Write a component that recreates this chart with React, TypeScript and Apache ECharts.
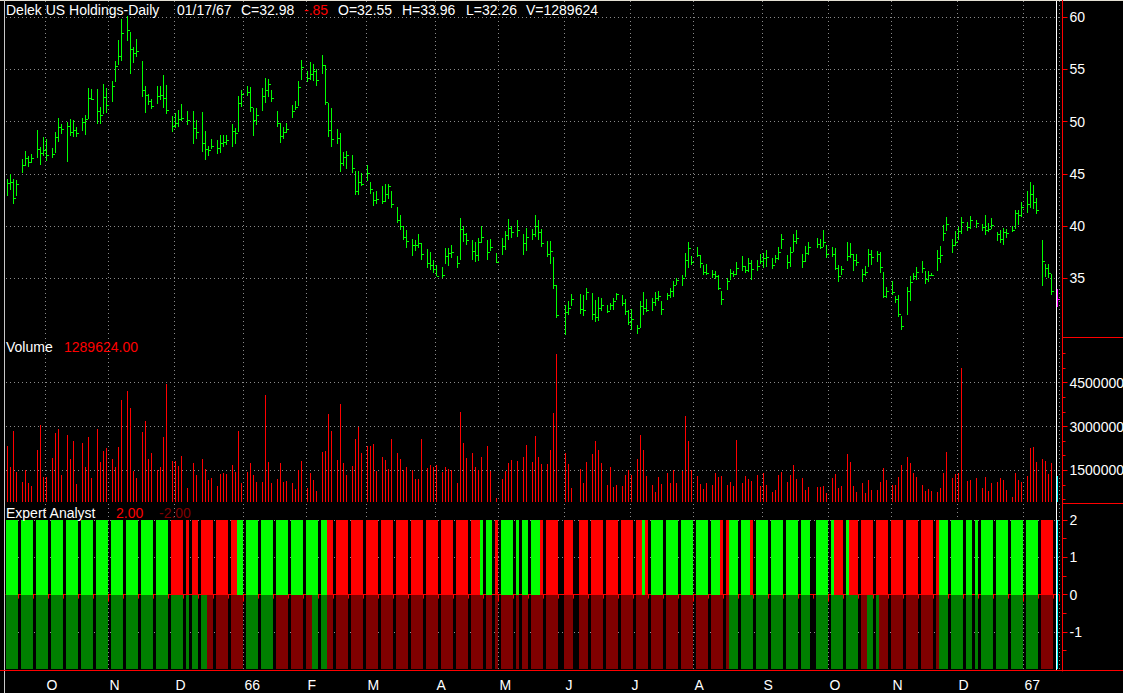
import React, { useEffect, useRef } from 'react';
import * as echarts from 'echarts';

// ---------- DATA (one slot every 3px; null = no trading bar in that slot) ----------
const HIGH: (number | null)[] = [
  44.5,45.0,44.5,44.4,null, 46.4,47.2,46.7,46.9,null, 49.2,47.6,48.5,48.3,null, 47.5,49.0,50.4,49.8,null,
  50.0,50.3,50.2,49.5,null, 50.4,50.6,53.2,53.1,null, 53.1,51.4,53.6,53.2,null, 53.9,55.8,57.8,59.8,null,
  60.1,58.6,57.2,57.9,null, 55.8,53.4,52.7,52.2,null, 53.4,53.4,54.5,53.5,null, 50.5,50.8,51.1,51.7,null,
  51.0,null,51.0,50.2,null, 50.9,49.1,47.7,48.3,null, 48.2,48.7,48.7,48.7,null, 49.8,49.4,52.5,53.0,null,
  53.4,53.3,51.3,51.3,null, 53.2,54.2,54.1,53.0,null, 51.0,49.9,49.5,49.9,null, 51.6,52.0,53.9,55.9,null,
  54.9,55.7,55.5,55.0,null, 56.4,55.4,51.8,51.3,null, 49.3,48.9,47.1,47.2,null, 46.8,45.3,45.3,45.1,null,
  45.9,44.2,43.3,43.4,null, 43.8,44.0,44.0,43.4,null, 41.8,41.1,40.0,39.6,null, 38.8,38.7,39.2,38.4,null,
  37.8,37.5,36.8,36.3,null, 36.1,37.9,37.9,38.2,null, 37.1,40.8,40.0,39.3,null, 38.7,38.5,38.9,40.0,null,
  38.7,38.8,null,37.4,null, 38.9,39.5,40.7,40.0,null, 40.6,null,39.2,39.8,null, 39.7,41.1,40.6,39.7,null,
  38.6,38.6,37.0,34.4,null, null,32.4,32.8,33.5,null, null,33.5,33.4,34.1,null, 33.6,32.9,33.2,33.1,null,
  32.4,32.6,33.1,33.6,null, 33.4,33.0,32.0,32.1,null, 30.5,32.8,33.7,33.0,null, 33.1,33.7,33.8,32.8,null,
  33.6,34.1,34.7,35.0,null, 35.3,37.4,38.5,37.1,null, 38.0,37.2,36.3,36.4,null, 35.8,35.7,35.3,33.8,null,
  35.0,35.9,35.7,36.6,null, 37.1,36.2,36.9,36.8,null, 36.8,37.3,37.4,37.7,null, 36.9,37.2,38.0,39.2,null,
  37.2,38.0,39.2,39.6,null, 37.3,38.1,38.5,null,null, 38.9,38.8,39.6,38.2,null, 38.0,37.9,36.3,36.2,null,
  38.5,38.4,37.3,37.3,null, 35.9,36.2,37.8,37.7,null, 37.6,37.5,35.6,34.2,null, 34.7,33.3,33.4,31.4,null,
  34.2,35.2,35.5,36.1,null, 36.7,35.7,35.7,35.5,null, 37.7,38.1,40.1,40.9,null, 38.8,39.5,39.9,40.9,null,
  40.4,41.0,null,40.6,null, 40.2,41.1,40.3,40.8,null, 39.4,39.6,39.8,39.7,null, 40.0,41.5,41.5,42.3,null,
  43.4,44.2,43.9,42.7,null, 38.7,36.4,36.4,35.4,null, 33.96,
];
const LOW: (number | null)[] = [
  42.9,43.5,42.1,42.9,null, 45.1,45.8,45.7,46.0,null, 46.5,45.9,46.7,46.2,null, 46.5,47.0,48.1,48.8,null,
  46.1,48.6,48.5,48.5,null, 49.1,48.7,50.3,52.1,null, 49.8,49.8,50.7,50.8,null, 51.9,53.8,55.4,55.8,null,
  57.7,54.6,55.6,56.2,null, 52.4,50.8,51.6,51.2,null, 51.7,52.1,51.3,50.7,null, 49.0,49.4,49.5,50.1,null,
  49.7,null,47.9,48.3,null, 47.1,46.3,46.7,47.4,null, 46.9,47.0,47.6,47.8,null, 47.6,47.9,49.0,51.4,null,
  52.5,50.9,48.6,49.7,null, 51.0,51.8,52.4,51.9,null, 49.5,48.0,48.3,48.9,null, 50.4,51.1,51.5,54.0,null,
  53.8,54.0,53.9,53.4,null, 54.6,51.6,48.5,47.6,null, 47.9,45.2,45.8,45.5,null, 45.1,43.0,43.0,43.8,null,
  44.3,43.1,41.9,42.1,null, 42.1,42.3,42.6,41.7,null, 40.3,39.6,38.7,37.9,null, 37.1,37.6,37.9,36.8,null,
  36.0,35.8,35.5,35.2,null, 35.0,36.4,36.2,36.9,null, 36.0,36.8,38.5,38.2,null, 36.8,36.6,36.7,38.4,null,
  36.8,37.6,null,36.5,null, 37.2,37.7,38.7,38.9,null, 39.0,null,37.2,37.6,null, 38.7,39.0,38.7,38.0,null,
  37.0,36.4,34.0,31.2,null, null,29.6,31.5,32.3,null, null,31.6,31.4,32.9,null, 31.0,30.8,30.9,31.9,null,
  31.7,32.0,32.0,32.9,null, 32.3,31.5,30.5,30.0,null, 29.7,30.2,31.5,31.8,null, 31.9,32.3,32.8,31.5,null,
  32.9,33.1,33.2,34.4,null, 34.3,35.1,36.0,36.3,null, 37.0,36.0,35.3,35.3,null, 35.0,34.9,33.9,32.4,null,
  33.9,34.8,35.1,35.3,null, 35.7,35.5,35.6,34.8,null, 35.7,36.4,36.0,36.1,null, 35.9,36.5,36.8,37.8,null,
  35.9,36.1,37.5,38.3,null, 36.0,36.6,37.2,null,null, 37.9,37.8,38.0,36.9,null, 37.0,35.8,34.6,35.3,null,
  36.7,36.9,35.7,36.2,null, 34.6,35.2,36.1,36.3,null, 36.6,35.5,33.1,33.1,null, 33.4,32.6,31.3,30.0,null,
  31.5,32.8,34.8,34.8,null, 35.5,34.5,34.6,35.2,null, 35.7,36.5,38.6,39.5,null, 37.4,38.1,38.7,39.2,null,
  39.5,39.7,null,39.8,null, 39.5,39.1,39.4,39.7,null, 38.6,38.4,38.2,38.9,null, 39.4,39.7,40.1,40.9,null,
  41.3,41.7,41.6,41.2,null, 34.3,35.1,35.0,33.4,null, 32.26,
];
const CLOSE: (number | null)[] = [
  44.1,44.2,42.7,44.0,null, 45.9,46.5,46.1,46.5,null, 47.4,47.0,47.3,46.8,null, 46.9,48.5,49.5,49.3,null,
  49.6,49.0,49.2,48.9,null, 50.0,50.3,52.3,52.2,null, 51.0,50.6,52.4,51.6,null, 53.4,55.3,56.3,58.5,null,
  58.8,57.0,56.6,56.8,null, 53.0,52.6,52.0,51.5,null, 52.5,52.6,52.3,51.1,null, 49.6,49.9,50.3,50.4,null,
  50.2,null,49.4,49.0,null, 48.0,47.4,47.3,47.7,null, 47.5,48.0,48.1,48.2,null, 49.1,48.9,51.8,52.7,null,
  52.8,51.4,50.2,50.6,null, 52.5,53.0,53.6,52.3,null, 49.9,48.6,49.0,49.3,null, 51.0,51.4,53.3,55.2,null,
  54.2,54.6,54.9,54.0,null, 55.4,51.9,49.2,48.3,null, 48.4,46.0,46.6,46.8,null, 45.6,43.4,44.2,44.0,null,
  45.1,43.6,42.5,42.6,null, 42.4,43.1,43.8,42.1,null, 40.6,40.0,39.0,38.6,null, 38.2,38.2,38.4,37.3,null,
  36.5,36.3,35.9,35.2,null, 35.3,37.1,37.4,37.5,null, 36.5,39.7,39.2,38.7,null, 37.6,37.2,38.5,39.0,null,
  37.5,38.0,null,36.6,null, 38.1,39.1,39.8,39.4,null, 39.6,null,38.4,39.0,null, 39.2,40.0,39.4,38.4,null,
  37.3,37.6,34.4,31.5,null, null,31.8,32.2,33.0,null, null,32.1,32.0,33.7,null, 31.6,31.3,32.2,32.4,null,
  31.9,32.4,32.8,33.5,null, 32.6,31.9,30.8,31.1,null, 30.2,32.3,32.2,32.0,null, 32.7,33.1,33.3,32.1,null,
  33.4,33.8,34.4,34.8,null, 35.0,36.8,37.9,36.6,null, 37.2,36.5,35.6,35.5,null, 35.4,35.2,34.1,33.0,null,
  34.7,35.5,35.4,36.0,null, 36.2,35.8,36.5,35.9,null, 36.2,36.7,36.9,37.0,null, 36.3,36.9,37.5,38.8,null,
  36.6,37.5,38.6,38.9,null, 36.7,37.4,38.0,null,null, 38.3,38.0,38.5,37.3,null, 37.3,36.0,35.2,35.9,null,
  37.1,37.3,36.8,36.6,null, 35.4,35.6,37.3,37.0,null, 37.3,36.1,33.3,33.8,null, 33.7,33.0,31.6,30.4,null,
  33.8,34.6,35.2,35.6,null, 36.0,34.9,35.3,35.3,null, 36.9,37.2,39.3,40.2,null, 38.2,38.5,39.5,40.4,null,
  39.9,40.6,null,40.3,null, 39.9,39.6,39.7,40.1,null, 39.2,38.8,39.4,39.3,null, 39.6,41.3,41.1,41.8,null,
  42.1,43.1,42.3,41.5,null, 36.7,36.0,35.5,33.8,null, 32.98,
];
// volume in millions of shares
const VOLUME: (number | null)[] = [
  2.33,1.61,2.85,1.44,null, 1.10,1.51,1.07,0.97,null, 2.20,3.04,1.27,1.27,null, 1.93,2.78,2.92,1.34,null,
  2.71,1.89,2.51,1.03,null, 2.44,1.61,2.64,1.25,null, 2.92,1.79,2.16,2.27,null, 1.89,1.61,2.30,3.91,null,
  4.22,3.64,1.48,1.25,null, 2.81,3.19,1.89,2.09,null, 1.51,1.61,2.64,4.46,null, 1.82,1.82,1.65,1.99,null,
  0.89,null,1.75,1.34,null, 1.90,1.55,1.17,1.25,null, 0.97,1.37,1.41,1.37,null, 1.68,1.44,2.85,1.07,null,
  1.44,1.75,1.34,1.10,null, 1.10,4.08,1.79,1.07,null, 1.20,1.75,1.10,1.13,null, 1.07,0.86,1.51,1.82,null,
  0.89,1.41,1.17,0.79,null, 2.13,2.16,3.43,2.85,null, 1.85,3.77,1.75,1.34,null, 1.65,2.57,2.99,2.09,null,
  2.33,2.33,2.40,1.48,null, 1.96,1.85,1.55,2.57,null, 2.09,1.89,1.51,1.61,null, 1.51,1.20,1.20,2.57,null,
  1.58,1.68,1.61,1.68,null, 1.44,1.61,1.55,1.51,null, 1.07,3.50,2.44,1.92,null, 2.09,1.61,1.51,1.96,null,
  2.33,1.48,null,0.55,null, 1.20,1.48,1.75,1.85,null, 1.82,null,1.96,2.37,null, 1.79,2.68,1.96,1.72,null,
  1.72,2.20,3.47,5.49,null, null,2.09,1.72,0.89,null, null,1.55,1.07,1.79,null, 2.06,2.51,2.20,1.75,null,
  1.00,1.61,0.93,1.00,null, 0.96,1.34,1.51,1.34,null, 1.89,2.71,2.20,1.31,null, 1.00,0.76,1.27,1.03,null,
  1.41,1.07,1.51,1.07,null, 1.48,3.36,2.51,1.51,null, 1.31,1.03,0.86,1.07,null, 1.00,1.41,1.27,1.31,null,
  1.00,1.10,0.96,2.54,null, 1.07,1.31,1.20,1.13,null, 1.34,0.96,1.41,1.00,null, 0.76,0.83,1.34,1.44,null,
  1.10,1.34,1.68,1.20,null, 1.24,0.83,0.93,null,null, 0.93,0.93,0.96,0.72,null, 1.24,1.37,0.89,0.96,null,
  2.06,1.79,0.96,0.76,null, 1.07,0.72,1.17,0.83,null, 0.83,1.10,1.58,1.17,null, 1.00,1.00,1.27,1.68,null,
  1.96,1.75,1.41,1.27,null, 1.00,0.79,0.86,0.79,null, 0.76,0.89,1.41,2.13,null, 1.24,1.37,1.41,5.01,null,
  1.13,1.17,null,1.24,null, 0.89,1.27,0.79,1.07,null, 1.10,1.24,1.17,0.83,null, 0.59,1.41,1.17,1.10,null,
  1.31,2.27,2.30,1.79,null, 1.89,1.82,1.37,1.75,null, 1.289624,
];
// Expert Analyst: upper half G = bullish, R = bearish; lower half g / r; C / c = current bar
const UPPER_SIGNAL = [
  'GGGG.','GGGG.','GGGG.','GGGG.','GGGG.','GGGG.','GGGG.','GGGG.','GGGG.','GGGG.',
  'GGGG.','RRRR.','R.RR.','RRRR.','RRRR.','RRGG.','GGGG.','GGGG.','GGGG.','GGGG.',
  'GGGG.','GGRR.','RRRR.','RRRR.','RRRR.','RRRR.','RRRR.','RRRR.','RRRR.','RRRR.',
  'RRRR.','RRRG.','GG.R.','GGGG.','G.GG.','GGGR.','RRRR.','.RRR.','.RRR.','RRRR.',
  'RRRR.','RRRR.','RRGR.','GGGG.','GGGG.','GGGG.','GGGG.','GGGR.','RGGG.','GGGR.',
  'GGGG.','GGGG.','GGGG.','GGG..','GGGG.','GRRR.','GRRR.','RRRR.','RRRR.','RRRR.',
  'RRRR.','RRRR.','RGGG.','GGGG.','GG.G.','GGGG.','GGGG.','GGGG.','GGGG.','RRRR.',
  'C',
].join('');
const LOWER_SIGNAL = [
  'gggg.','gggg.','gggg.','gggg.','gggg.','gggg.','gggg.','gggg.','gggg.','gggg.',
  'gggg.','gggg.','g.gg.','ggrr.','rrrr.','rrrr.','gggg.','gggg.','rrrr.','rrrr.',
  'rrgg.','ggrr.','rrrr.','rrrr.','rrrr.','rrrr.','rrrr.','rrrr.','rrrr.','rrrr.',
  'rrrr.','rrrr.','rr.r.','rrrr.','r.rr.','rrrr.','rrrr.','.rrr.','.rrr.','rrrr.',
  'rrrr.','rrrr.','rrrr.','rrrr.','rrrr.','rrrr.','rrrr.','rrrr.','rggg.','gggg.',
  'gggg.','gggg.','gggg.','ggg..','gggg.','gggg.','gggg.','rrgg.','grrr.','rrrr.',
  'rrrr.','rrrr.','rggg.','gggg.','gg.g.','gggg.','gggg.','gggg.','gggg.','rrrr.',
  'c',
].join('');
const MONTH_TICKS: Record<number, string> = {
  13: 'O', 34: 'N', 56: 'D', 79: '66', 100: 'F', 120: 'M', 143: 'A', 164: 'M',
  186: 'J', 208: 'J', 229: 'A', 252: 'S', 274: 'O', 295: 'N', 317: 'D', 339: '67',
};
const PRICE_TICKS = [35, 40, 45, 50, 55, 60];
const VOLUME_TICKS = [1.5, 3, 4.5];
const VOLUME_MINOR_TICKS = [0.5, 1, 2, 2.5, 3.5, 4, 5, 5.5];
const IND_TICKS = [-1, 0, 1, 2];
const IND_MINOR_TICKS = [-1.5, -0.5, 0.5, 1.5];
const LAST_OPEN = 32.55;
const LAST_CHANGE = '-.85';
const LAST_DATE = '01/17/67';
const IND_VALUES = ['2.00', '-2.00'];

// ---------- COLORS / LAYOUT ----------
const SIG_COLOR: Record<string, string> = {
  G: '#00ff00', R: '#ff0000', g: '#008000', r: '#800000', C: '#00ffff', c: '#00ffff',
};
const RED = '#ff0000';
const GRIDLINE = { color: '#8a8a8a', type: [1, 3] as number[], width: 1 };
const FONT = '"Liberation Sans", Arial, sans-serif';

export default function App() {
  const ref = useRef<HTMLDivElement>(null);

  useEffect(() => {
    const chart = echarts.init(ref.current!, null, { renderer: 'svg' });
    const n = HIGH.length;
    const last = n - 1;
    const slots = HIGH.map((_, i) => String(i));

    const priceData: number[][] = [];
    const volData: number[][] = [];
    for (let k = 0; k < n; k++) {
      if (HIGH[k] != null) priceData.push([k, HIGH[k] as number, LOW[k] as number, CLOSE[k] as number]);
      if (VOLUME[k] != null) volData.push([k, VOLUME[k] as number]);
    }
    const indData: any[] = [];
    for (let k = 0; k < n; k++) {
      const u = UPPER_SIGNAL[k];
      const l = LOWER_SIGNAL[k];
      if (u && u !== '.') indData.push({ value: [k, 2], itemStyle: { color: SIG_COLOR[u] } });
      if (l && l !== '.') indData.push({ value: [k, -2], itemStyle: { color: SIG_COLOR[l] } });
    }

    const isMonth = (i: number) => MONTH_TICKS[i] !== undefined;
    const hiddenX = (gridIndex: number) => ({
      type: 'category', gridIndex, data: slots, boundaryGap: true,
      axisLine: { show: false }, axisTick: { show: false }, axisLabel: { show: false },
      splitLine: { show: true, interval: (i: number) => isMonth(i), lineStyle: GRIDLINE },
    });

    // price: 10.44 px per $1, $35 at y=278.3, panel y 1..337
    const PMIN = 29.377, PMAX = 61.561;
    // volume: 29.2 px per 1M, 1.5M at y=470.3, panel y 338..502
    const VMIN = 0.415, VMAX = 6.031;
    // indicator: 37.3 px per unit, 2 at y=520, panel y 504..671
    const IMIN = -2.048, IMAX = 2.429;

    const axisLabelStyle = { color: '#ffffff', fontSize: 14, fontFamily: FONT, margin: 7 };

    const texts: any[] = [];
    const addText = (text: string, x: number, y: number, fill: string) =>
      texts.push({ type: 'text', x, y, z: 100, silent: true,
        style: { text, fill, fontSize: 14, fontFamily: FONT, textVerticalAlign: 'middle' } });
    addText('Delek US Holdings-Daily', 6, 10, '#ffffff');
    addText(LAST_DATE, 177, 10, '#ffffff');
    addText('C=' + (CLOSE[last] as number).toFixed(2), 241, 10, '#ffffff');
    addText(LAST_CHANGE, 304, 10, RED);
    addText('O=' + LAST_OPEN.toFixed(2), 338, 10, '#ffffff');
    addText('H=' + (HIGH[last] as number).toFixed(2), 402, 10, '#ffffff');
    addText('L=' + (LOW[last] as number).toFixed(2), 466, 10, '#ffffff');
    addText('V=' + Math.round((VOLUME[last] as number) * 1e6), 526, 10, '#ffffff');
    addText('Volume', 6, 347, '#ffffff');
    addText(Math.round((VOLUME[last] as number) * 1e6).toFixed(2), 64, 347, RED);
    addText('Expert Analyst', 6, 513, '#ffffff');
    addText(IND_VALUES[0], 116, 513, RED);
    addText(IND_VALUES[1], 159, 513, '#800000');

    const line = (x1: number, y1: number, x2: number, y2: number, stroke: string) => ({
      type: 'line', z: 90, silent: true, shape: { x1, y1, x2, y2 }, style: { stroke, lineWidth: 1 },
    });

    const option: any = {
      animation: false,
      backgroundColor: '#000000',
      textStyle: { fontFamily: FONT },
      grid: [
        { left: 6, top: 1, width: 1053, height: 336, outerBoundsMode: 'none' },
        { left: 6, top: 338, width: 1053, height: 164, outerBoundsMode: 'none' },
        { left: 6, top: 504, width: 1053, height: 167, outerBoundsMode: 'none' },
      ],
      xAxis: [
        hiddenX(0),
        hiddenX(1),
        {
          type: 'category', gridIndex: 2, data: slots, boundaryGap: true,
          axisLine: { show: true, lineStyle: { color: RED, width: 1 } },
          axisTick: { show: true, interval: (i: number) => i % 5 === 4, length: 4, lineStyle: { color: RED } },
          axisLabel: { show: false },
          splitLine: { show: true, interval: (i: number) => isMonth(i), lineStyle: GRIDLINE },
        },
        {
          type: 'category', gridIndex: 2, data: slots, boundaryGap: true, position: 'bottom',
          axisLine: { show: false },
          axisTick: { show: true, interval: (i: number) => isMonth(i), length: 7, lineStyle: { color: RED } },
          axisLabel: {
            show: true, interval: (i: number) => isMonth(i), align: 'left', margin: 7,
            color: '#ffffff', fontSize: 14, fontFamily: FONT,
            formatter: (_v: string, i: number) => MONTH_TICKS[i] ?? '',
          },
          splitLine: { show: false },
        },
      ],
      yAxis: [
        {
          type: 'value', gridIndex: 0, position: 'right', offset: 3.5, min: PMIN, max: PMAX,
          axisLine: { show: true, lineStyle: { color: RED } },
          axisTick: { show: true, customValues: PRICE_TICKS, length: 5, lineStyle: { color: RED } },
          axisLabel: { ...axisLabelStyle, customValues: PRICE_TICKS },
          splitLine: { show: true, lineStyle: GRIDLINE },
        },
        {
          type: 'value', gridIndex: 1, position: 'right', offset: 3.5, min: VMIN, max: VMAX,
          axisLine: { show: true, lineStyle: { color: RED } },
          axisTick: { show: true, customValues: VOLUME_TICKS, length: 5, lineStyle: { color: RED } },
          axisLabel: { ...axisLabelStyle, customValues: VOLUME_TICKS,
            formatter: (v: number) => String(Math.round(v * 1e6)) },
          splitLine: { show: true, lineStyle: GRIDLINE },
        },
        {
          type: 'value', gridIndex: 1, position: 'right', offset: 3.5, min: VMIN, max: VMAX,
          axisLine: { show: false },
          axisTick: { show: true, customValues: VOLUME_MINOR_TICKS, length: 3, lineStyle: { color: RED } },
          axisLabel: { show: false }, splitLine: { show: false },
        },
        {
          type: 'value', gridIndex: 2, position: 'right', offset: 3.5, min: IMIN, max: IMAX,
          axisLine: { show: true, lineStyle: { color: RED } },
          axisTick: { show: true, customValues: IND_TICKS, length: 5, lineStyle: { color: RED } },
          axisLabel: { ...axisLabelStyle, customValues: IND_TICKS },
          splitLine: { show: true, lineStyle: GRIDLINE },
        },
        {
          type: 'value', gridIndex: 2, position: 'right', offset: 3.5, min: IMIN, max: IMAX,
          axisLine: { show: false },
          axisTick: { show: true, customValues: IND_MINOR_TICKS, length: 4, lineStyle: { color: RED } },
          axisLabel: { show: false }, splitLine: { show: false },
        },
      ],
      series: [
        {
          type: 'custom', name: 'Price', xAxisIndex: 0, yAxisIndex: 0, data: priceData,
          encode: { x: 0, y: [1, 2, 3] },
          renderItem: (_params: any, api: any) => {
            const k = api.value(0);
            const hi = api.coord([k, api.value(1)]);
            const lo = api.coord([k, api.value(2)]);
            const cl = api.coord([k, api.value(3)]);
            const x = Math.floor(hi[0]);
            const color = k === last ? '#ff00ff' : '#00ff00';
            const yTop = Math.round(hi[1]);
            const yBot = Math.round(lo[1]);
            return {
              type: 'group',
              children: [
                { type: 'rect', shape: { x, y: yTop, width: 1, height: Math.max(1, yBot - yTop) }, style: { fill: color } },
                { type: 'rect', shape: { x: x + 1, y: Math.round(cl[1]), width: 2, height: 1 }, style: { fill: color } },
              ],
            };
          },
        },
        {
          type: 'custom', name: 'Volume', xAxisIndex: 1, yAxisIndex: 1, data: volData,
          encode: { x: 0, y: 1 },
          renderItem: (params: any, api: any) => {
            const k = api.value(0);
            const p = api.coord([k, api.value(1)]);
            const base = params.coordSys.y + params.coordSys.height;
            const y = Math.round(p[1]);
            return {
              type: 'rect',
              shape: { x: Math.floor(p[0]), y, width: 1, height: base - y },
              style: { fill: k === last ? '#00ffff' : RED },
            };
          },
        },
        {
          type: 'custom', name: 'Expert Analyst', xAxisIndex: 2, yAxisIndex: 3, data: indData,
          encode: { x: 0, y: 1 },
          renderItem: (_params: any, api: any) => {
            const k = api.value(0);
            const p0 = api.coord([k, 0]);
            const p1 = api.coord([k, api.value(1)]);
            const isLast = k === last;
            const cx = Math.floor(p0[0]);
            const y0 = Math.round(p0[1]);
            const y1 = Math.round(p1[1]);
            return {
              type: 'rect',
              shape: { x: isLast ? cx : cx - 1, y: Math.min(y0, y1), width: isLast ? 1 : 3, height: Math.abs(y1 - y0) },
              style: { fill: api.visual('color') },
            };
          },
        },
      ],
      graphic: [
        { type: 'rect', z: 90, silent: true, shape: { x: 0, y: 0, width: 1123, height: 1 }, style: { fill: '#e4e0d4' } },
        { type: 'rect', z: 90, silent: true, shape: { x: 4, y: 0, width: 1, height: 693 }, style: { fill: '#c8c8c8' } },
        line(1056.5, 1, 1056.5, 670, '#ffffff'),
        line(1062.5, 0, 1062.5, 671, RED),
        line(1062, 337.5, 1123, 337.5, RED),
        line(1062, 503.5, 1123, 503.5, RED),
        line(0, 670.5, 1123, 670.5, RED),
        ...texts,
      ],
    };

    chart.setOption(option);
    return () => chart.dispose();
  }, []);

  return (
    <div
      ref={ref}
      style={{ position: 'absolute', left: 0, top: 0, width: 1123, height: 693, background: '#000' }}
    />
  );
}
